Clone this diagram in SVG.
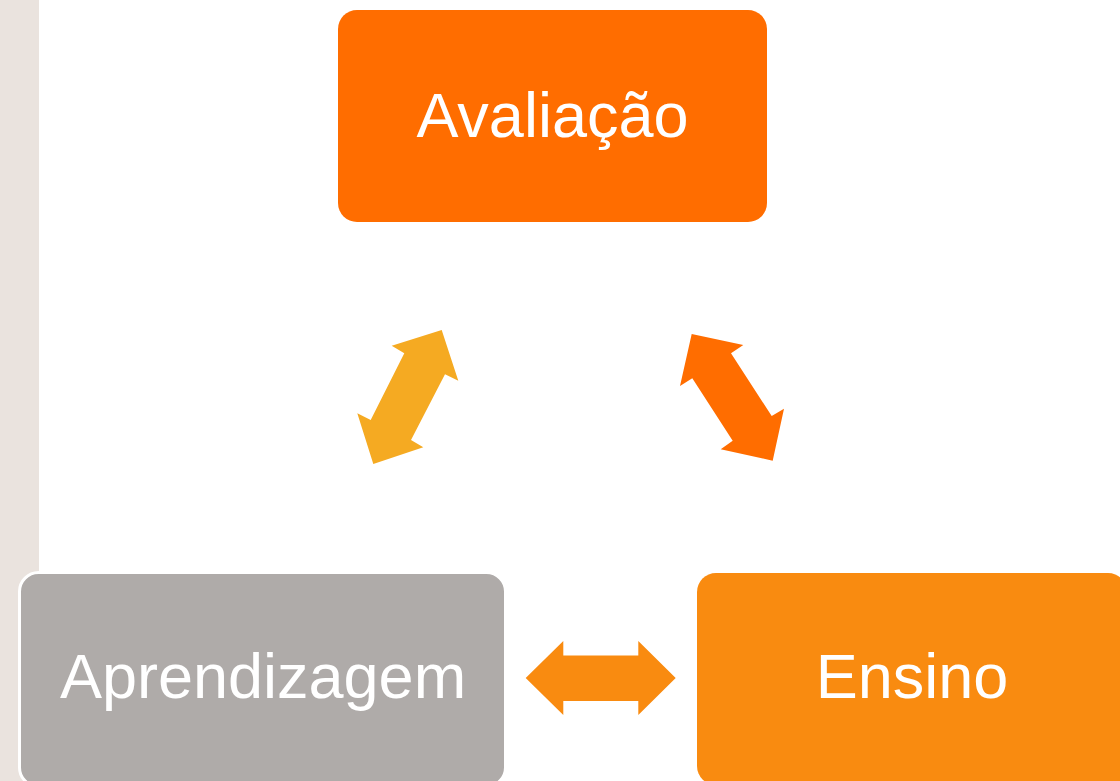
<svg xmlns="http://www.w3.org/2000/svg" width="1120" height="781" viewBox="0 0 1120 781">
<style>
.lbl{font-family:"Liberation Sans",Arial,sans-serif;font-size:63px;fill:#ffffff;text-anchor:middle}
</style>
<rect x="0" y="0" width="1120" height="781" fill="#ffffff"/>
<rect x="0" y="0" width="39" height="781" fill="#EAE3DE"/>
<g id="connectors">
<polygon fill="#F5AA22" points="441.7,330 458.3,380.7 445,374.3 411,440 423.3,447.3 373.3,464 357.3,413.3 370.7,420 404.3,353.3 391.7,345.7"/>
<polygon fill="#FF6D00" points="691.7,334 743.3,345 731,353.3 771.7,416 784,408.7 772.7,460.7 720.7,449.3 732.7,440.7 692.3,378.3 680,386"/>
<polygon fill="#F98B10" points="525.7,678 563.3,641 563.3,655.5 638.3,655.5 638.3,641 675.7,678 638.3,715 638.3,701 563.3,701 563.3,715"/>
</g>
<g id="avaliacao">
<rect x="338" y="10" width="429" height="212" rx="19" fill="#FF6D00"/>
<text class="lbl" x="552.5" y="137">Avaliação</text>
</g>
<g id="aprendizagem">
<rect x="19.5" y="572.5" width="486" height="214" rx="19" fill="#AFABA9" stroke="#ffffff" stroke-width="3"/>
<text class="lbl" x="263" y="698">Aprendizagem</text>
</g>
<g id="ensino">
<rect x="697" y="573" width="430" height="212" rx="19" fill="#F98B10"/>
<text class="lbl" x="912" y="698">Ensino</text>
</g>
</svg>
